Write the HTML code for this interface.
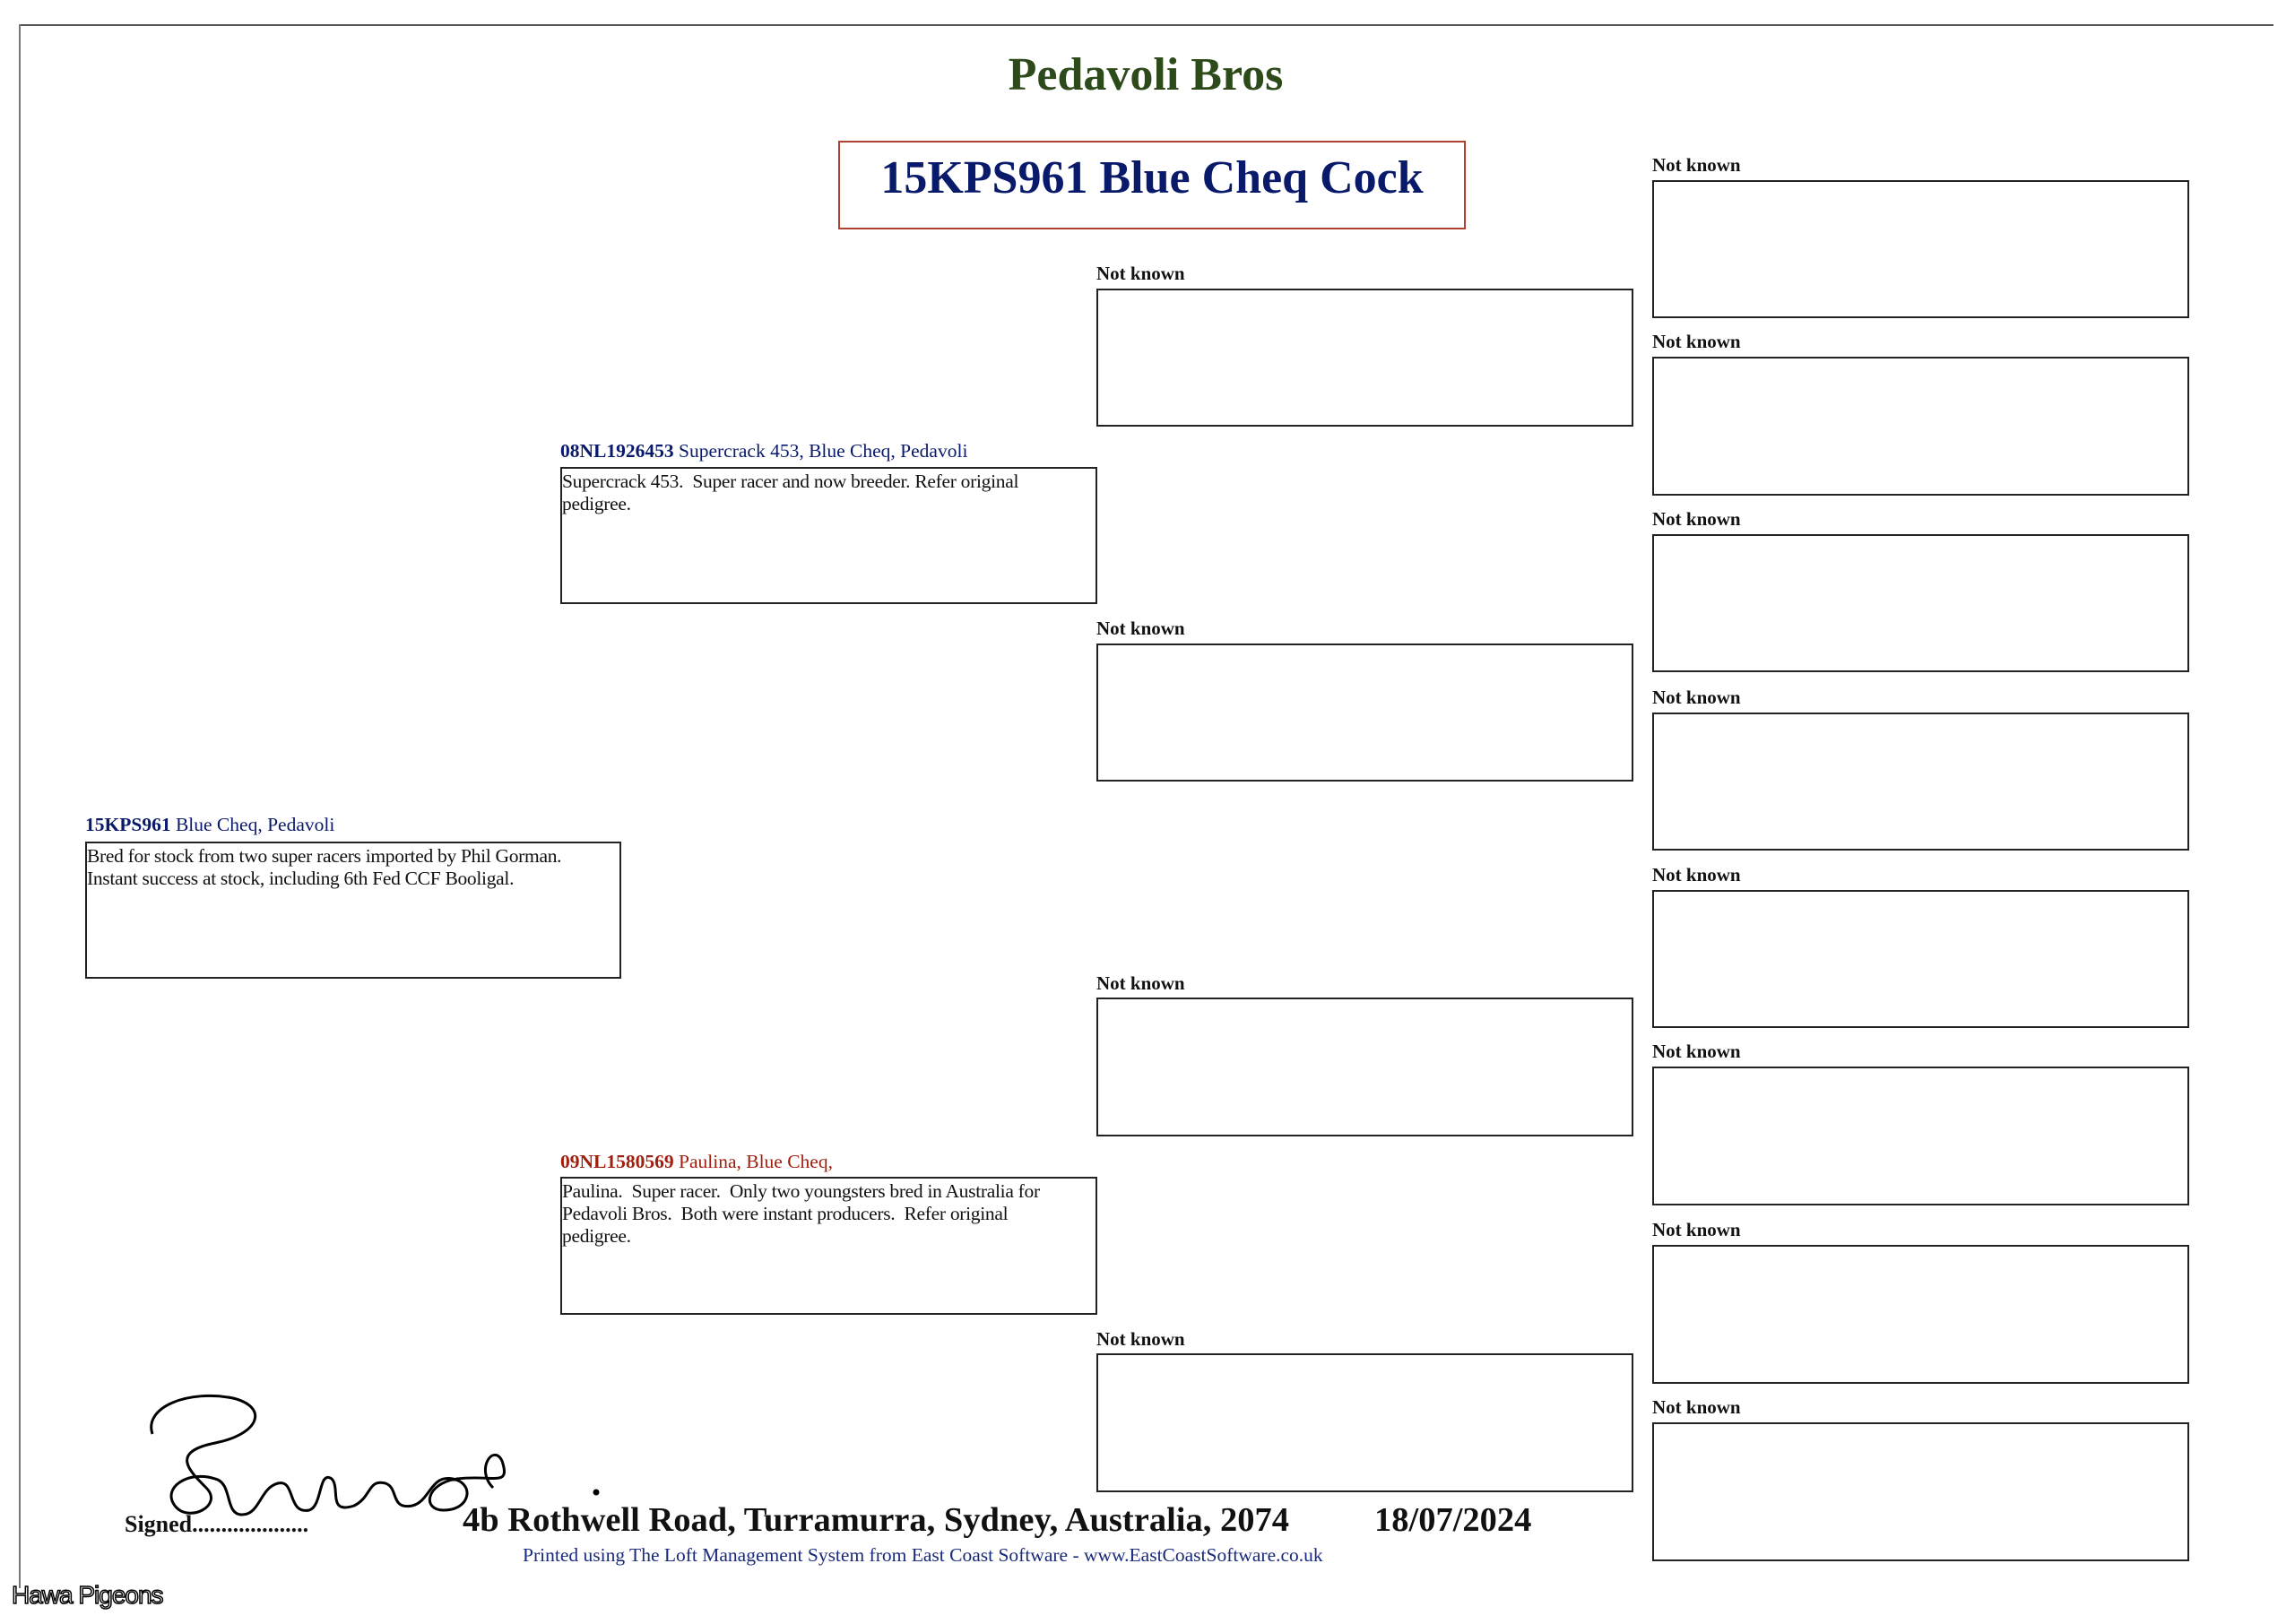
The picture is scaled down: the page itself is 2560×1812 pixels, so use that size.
<!DOCTYPE html>
<html><head><meta charset="utf-8"><style>
body{margin:0;width:2560px;height:1812px;background:#fff;position:relative;overflow:hidden;font-family:"Liberation Serif",serif;}
.a{position:absolute;}
.box{position:absolute;border:2px solid #222;box-sizing:border-box;background:#fff;}
.lb{position:absolute;font-weight:bold;font-size:21px;line-height:22px;color:#111;white-space:nowrap;}
.lb2{font-size:21.5px;}
.tx{font-size:21.5px;line-height:25px;color:#111;padding:2px 0px;letter-spacing:-0.3px}
</style></head><body>
<div class="a" style="left:21px;top:27px;width:2515px;height:2px;background:#555"></div>
<div class="a" style="left:21px;top:27px;width:2px;height:1745px;background:#777"></div>
<div class="a" style="left:0;width:2556px;top:56px;text-align:center;font-weight:bold;font-size:52px;color:#2d4a1a;line-height:56px">Pedavoli Bros</div>
<div class="box" style="left:935px;top:157px;width:700px;height:99px;border:2px solid #b04030;text-align:center;font-weight:bold;font-size:52px;color:#0a1a6a;line-height:80px">15KPS961 Blue Cheq Cock</div>

<div class="lb lb2" style="left:95px;top:909px;font-weight:normal"><b style="color:#0a1a6a">15KPS961</b> <span style="color:#0a1a6a">Blue Cheq, Pedavoli</span></div>
<div class="box" style="left:95px;top:939px;width:598px;height:153px"><div class="tx">Bred for stock from two super racers imported by Phil Gorman.<br>Instant success at stock, including 6th Fed CCF Booligal.</div></div>

<div class="lb lb2" style="left:625px;top:492px;font-weight:normal"><b style="color:#0a1a6a">08NL1926453</b> <span style="color:#0a1a6a">Supercrack 453, Blue Cheq, Pedavoli</span></div>
<div class="box" style="left:625px;top:521px;width:599px;height:153px"><div class="tx">Supercrack 453.&nbsp; Super racer and now breeder. Refer original<br>pedigree.</div></div>
<div class="lb lb2" style="left:625px;top:1285px;font-weight:normal"><b style="color:#a02010">09NL1580569</b> <span style="color:#a02010">Paulina, Blue Cheq,</span></div>
<div class="box" style="left:625px;top:1313px;width:599px;height:154px"><div class="tx">Paulina.&nbsp; Super racer.&nbsp; Only two youngsters bred in Australia for<br>Pedavoli Bros.&nbsp; Both were instant producers.&nbsp; Refer original<br>pedigree.</div></div>

<div class="lb" style="left:1223px;top:294px">Not known</div><div class="box" style="left:1223px;top:322px;width:599px;height:154px"></div>
<div class="lb" style="left:1223px;top:690px">Not known</div><div class="box" style="left:1223px;top:718px;width:599px;height:154px"></div>
<div class="lb" style="left:1223px;top:1086px">Not known</div><div class="box" style="left:1223px;top:1113px;width:599px;height:155px"></div>
<div class="lb" style="left:1223px;top:1483px">Not known</div><div class="box" style="left:1223px;top:1510px;width:599px;height:155px"></div>

<div class="lb" style="left:1843px;top:173px">Not known</div><div class="box" style="left:1843px;top:201px;width:599px;height:154px"></div>
<div class="lb" style="left:1843px;top:370px">Not known</div><div class="box" style="left:1843px;top:398px;width:599px;height:155px"></div>
<div class="lb" style="left:1843px;top:568px">Not known</div><div class="box" style="left:1843px;top:596px;width:599px;height:154px"></div>
<div class="lb" style="left:1843px;top:767px">Not known</div><div class="box" style="left:1843px;top:795px;width:599px;height:154px"></div>
<div class="lb" style="left:1843px;top:965px">Not known</div><div class="box" style="left:1843px;top:993px;width:599px;height:154px"></div>
<div class="lb" style="left:1843px;top:1162px">Not known</div><div class="box" style="left:1843px;top:1190px;width:599px;height:155px"></div>
<div class="lb" style="left:1843px;top:1361px">Not known</div><div class="box" style="left:1843px;top:1389px;width:599px;height:155px"></div>
<div class="lb" style="left:1843px;top:1559px">Not known</div><div class="box" style="left:1843px;top:1587px;width:599px;height:155px"></div>

<svg class="a" style="left:150px;top:1550px" width="540" height="160" viewBox="0 0 540 160" fill="none" stroke="#000" stroke-width="3">
<path d="M20 50 C10 20 60 0 110 10 C150 20 140 50 90 60 C40 70 60 90 80 110 C100 130 60 150 45 130 C30 110 60 90 90 100 C110 105 100 140 120 140 C140 140 140 110 160 105 C180 100 170 140 195 135 C210 130 205 90 220 100 C230 110 215 140 245 130 C265 120 260 100 280 105 C295 110 285 135 310 130 C330 125 330 95 355 100 C380 105 375 135 345 135 C320 135 325 105 360 100 C400 95 420 110 410 80 C400 60 380 90 400 110"/>
<circle cx="515" cy="115" r="2" fill="#000"/>
</svg>
<div class="a" style="left:139px;top:1686px;font-weight:bold;font-size:26px;color:#111">Signed....................</div>
<div class="a" style="left:516px;top:1674px;font-weight:bold;font-size:38.5px;color:#111;white-space:nowrap">4b Rothwell Road, Turramurra, Sydney, Australia, 2074</div>
<div class="a" style="left:1533px;top:1674px;font-weight:bold;font-size:38.5px;color:#111">18/07/2024</div>
<div class="a" style="left:583px;top:1723px;font-size:21.5px;color:#1a2a7a;white-space:nowrap">Printed using The Loft Management System from East Coast Software - www.EastCoastSoftware.co.uk</div>
<div class="a" style="left:13px;top:1764px;font-family:'Liberation Sans',sans-serif;font-size:28px;color:#fff;-webkit-text-stroke:1.5px #000;letter-spacing:-1px">Hawa Pigeons</div>
</body></html>
